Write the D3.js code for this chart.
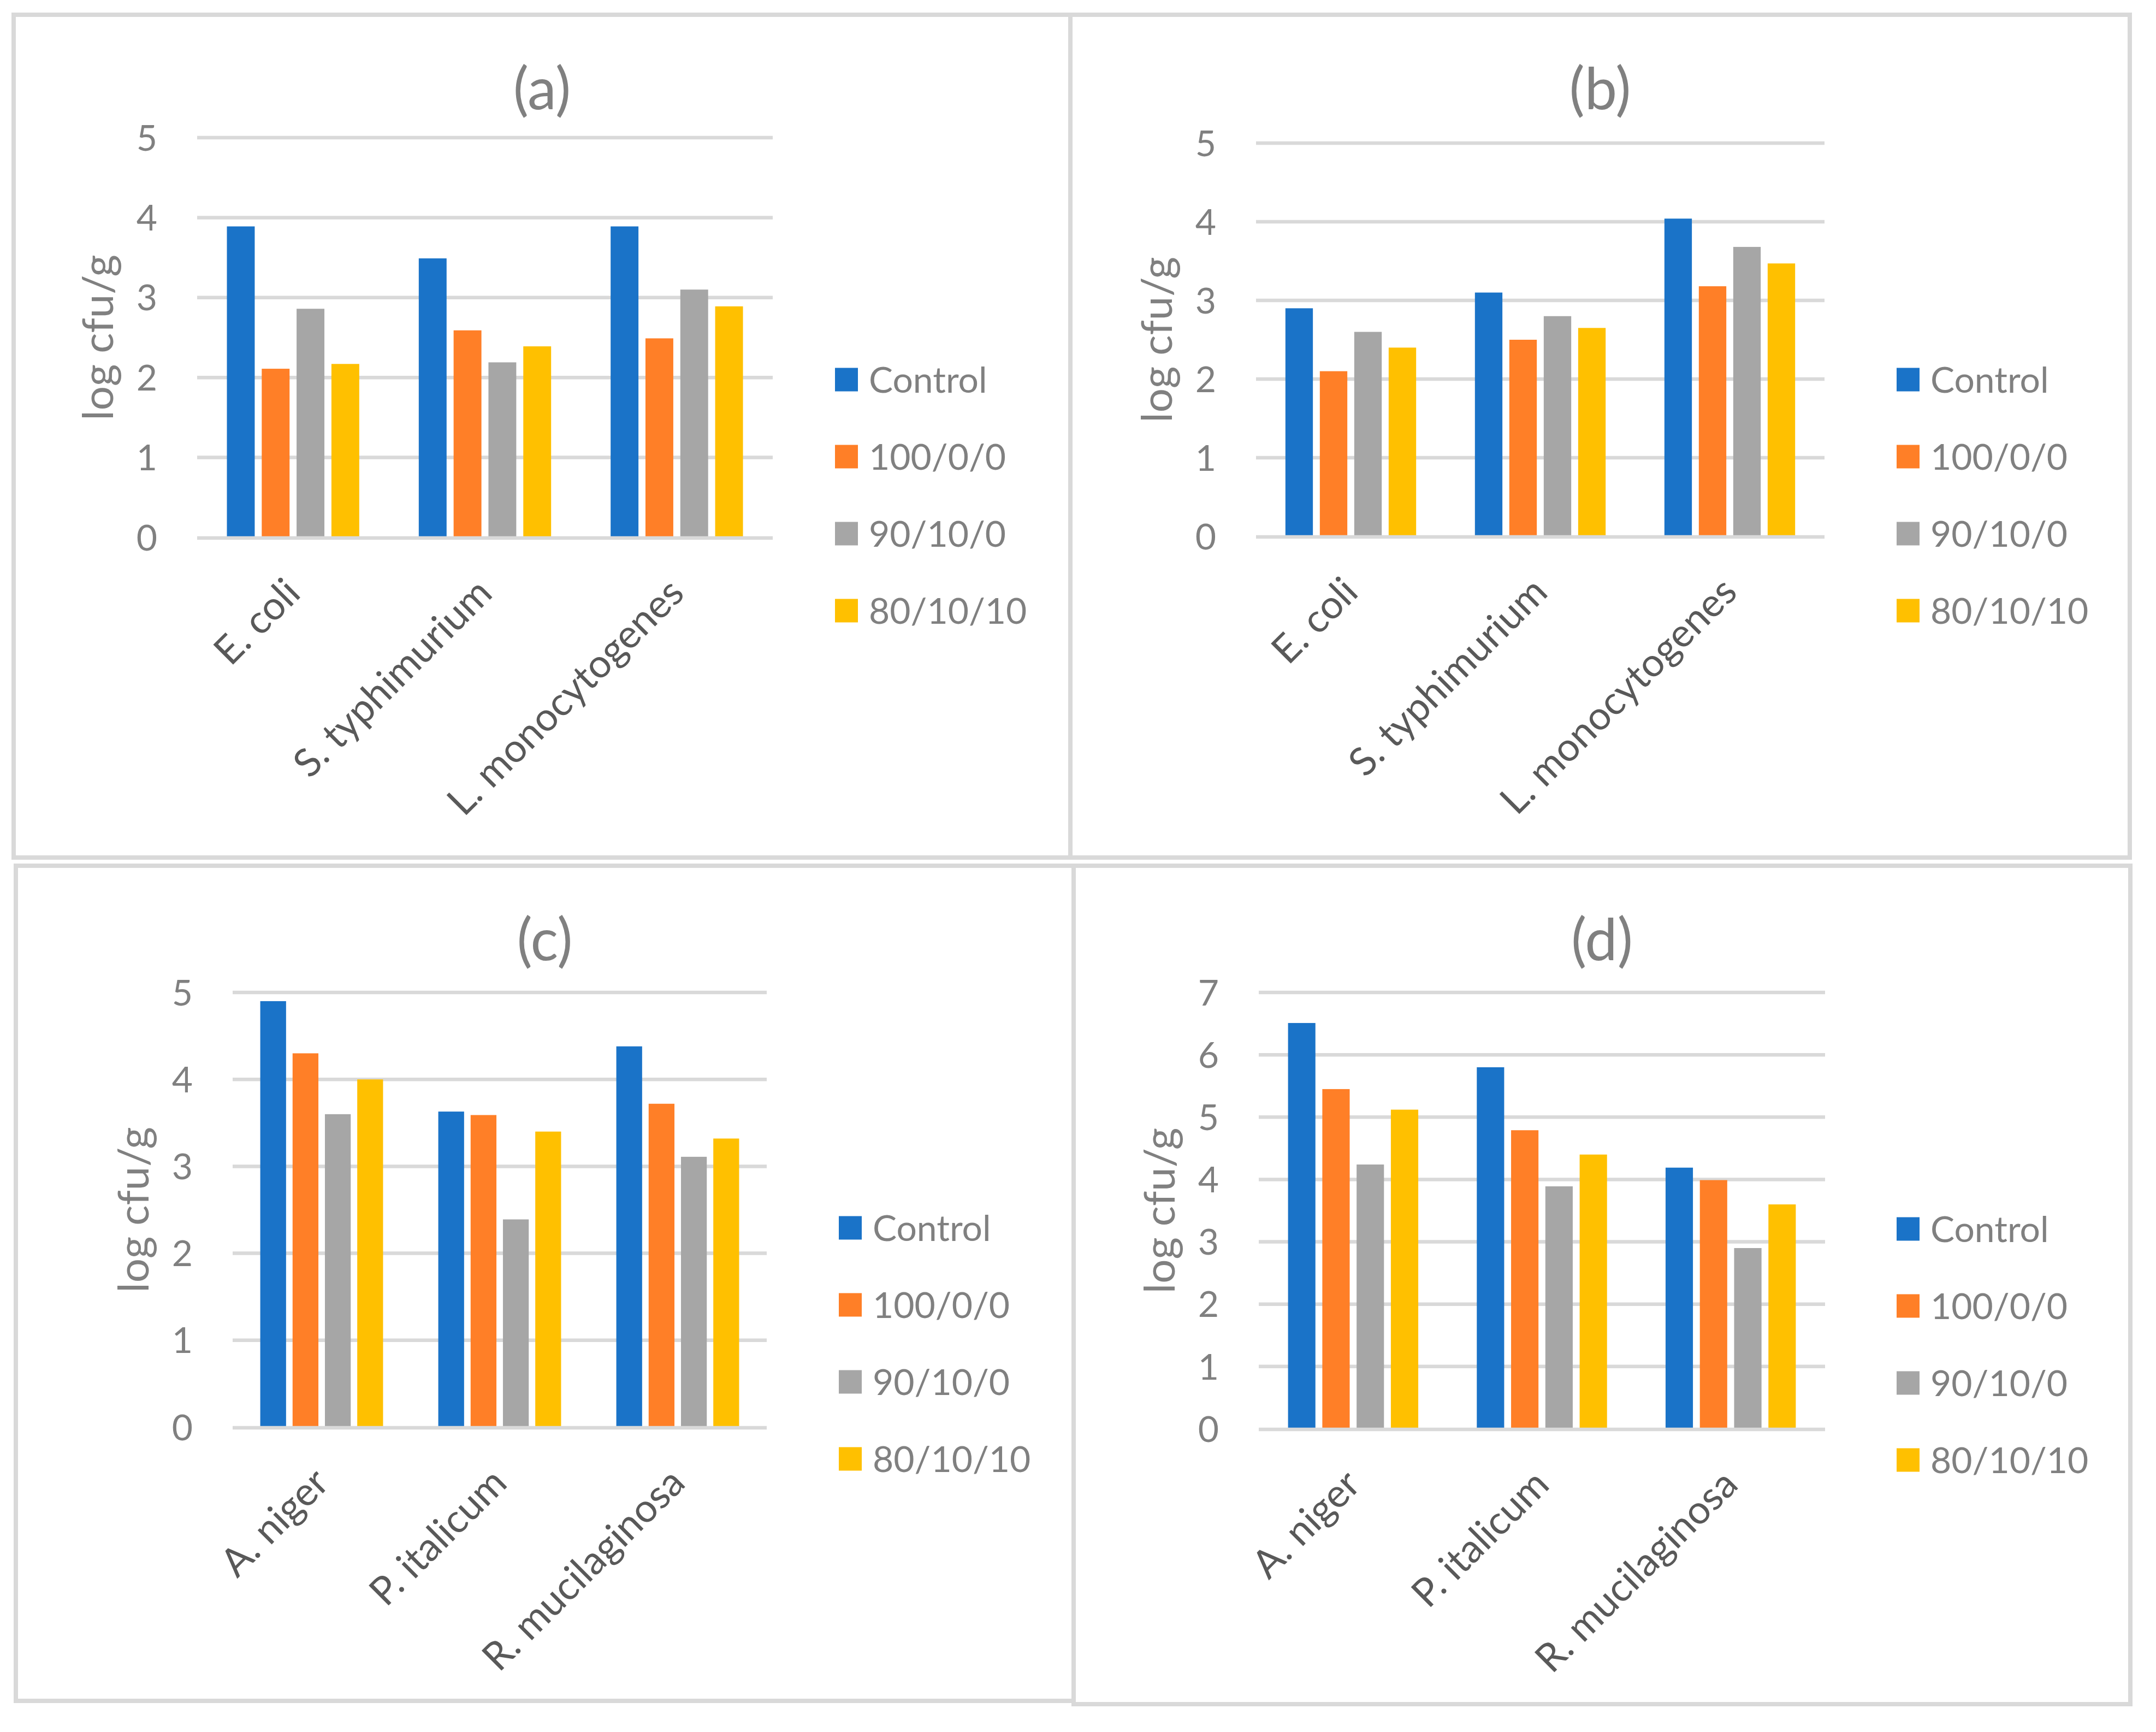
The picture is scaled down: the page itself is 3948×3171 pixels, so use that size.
<!DOCTYPE html>
<html>
<head>
<meta charset="utf-8">
<script src="https://cdn.jsdelivr.net/npm/d3@7"></script>
<style>
  html, body { margin: 0; padding: 0; background: #ffffff; }
  svg { display: block; }
  text { font-family: Lato, "Open Sans", sans-serif; }
</style>
</head>
<body>
<svg id="chart" width="3948" height="3171"></svg>
<script>
// ---------------- DATA ----------------
const seriesNames = ["Control", "100/0/0", "90/10/0", "80/10/10"];
const bacteria = ["E. coli", "S. typhimurium", "L. monocytogenes"];
const fungi = ["A. niger", "P. italicum", "R. mucilaginosa"];

// values per series (rows) across the three categories (columns)
const valuesA = [
  [3.89, 3.49, 3.89],
  [2.11, 2.59, 2.49],
  [2.86, 2.19, 3.10],
  [2.17, 2.39, 2.89]
];
const valuesB = [
  [2.90, 3.10, 4.04],
  [2.10, 2.50, 3.18],
  [2.60, 2.80, 3.68],
  [2.40, 2.65, 3.47]
];
const valuesC = [
  [4.90, 3.63, 4.38],
  [4.30, 3.59, 3.72],
  [3.60, 2.39, 3.11],
  [4.00, 3.40, 3.32]
];
const valuesD = [
  [6.51, 5.80, 4.19],
  [5.45, 4.79, 3.99],
  [4.24, 3.89, 2.90],
  [5.12, 4.40, 3.60]
];
const ticksABC = [0, 1, 2, 3, 4, 5];
const ticksD = [0, 1, 2, 3, 4, 5, 6, 7];
const titles = ["(a)", "(b)", "(c)", "(d)"];
const axisTitle = "log cfu/g";
const colors = ["#1A73C8", "#FF7F27", "#A6A6A6", "#FFC000"];

// ---------------- LAYOUT ----------------
const panels = [
  { title: titles[0], cats: bacteria, vals: valuesA, ticks: ticksABC,
    box: [25, 27, 1960, 1570], plot: [361, 252, 1415, 984], legX: 1529, legY: 695 },
  { title: titles[1], cats: bacteria, vals: valuesB, ticks: ticksABC,
    box: [1960, 27, 3900, 1570], plot: [2300, 262, 3341, 982], legX: 3473, legY: 695 },
  { title: titles[2], cats: fungi, vals: valuesC, ticks: ticksABC,
    box: [29, 1585, 1966, 3114], plot: [426, 1817, 1404, 2613], legX: 1536, legY: 2248 },
  { title: titles[3], cats: fungi, vals: valuesD, ticks: ticksD,
    box: [1966, 1585, 3901, 3120], plot: [2305, 1817, 3342, 2616], legX: 3473, legY: 2250 }
];

const svg = d3.select("#chart");
svg.append("rect").attr("width", 3948).attr("height", 3171).attr("fill", "#ffffff");

const gridColor = "#D9D9D9";
const textGray = "#808080";
const catGray = "#595959";
const tickFont = 66;
const catFont = 72;
const capH = 0.7165 * tickFont;

panels.forEach(p => {
  const g = svg.append("g");
  const [bx0, by0, bx1, by1] = p.box;
  const [px0, py0, px1, py1] = p.plot;

  // panel border
  g.append("rect")
    .attr("x", bx0).attr("y", by0)
    .attr("width", bx1 - bx0).attr("height", by1 - by0)
    .attr("fill", "none").attr("stroke", gridColor).attr("stroke-width", 8);

  // title
  g.append("text")
    .attr("x", (bx0 + bx1) / 2).attr("y", by0 + 173)
    .attr("text-anchor", "middle")
    .attr("font-size", 106).attr("fill", textGray)
    .text(p.title);

  const maxT = d3.max(p.ticks);
  const y = d3.scaleLinear().domain([0, maxT]).range([py1, py0]);
  const x0 = d3.scaleBand().domain(p.cats).range([px0, px1]).paddingInner(0).paddingOuter(0);
  const band = x0.bandwidth();
  const barW = 0.145 * band;
  const step = 0.1816 * band;
  const groupW = step * (seriesNames.length - 1) + barW;
  const x1 = d3.scaleLinear().domain([0, seriesNames.length - 1]).range([0, step * (seriesNames.length - 1)]);

  // gridlines (except zero drawn later)
  g.append("g").selectAll("line").data(p.ticks.filter(t => t !== 0)).join("line")
    .attr("x1", px0).attr("x2", px1)
    .attr("y1", d => y(d)).attr("y2", d => y(d))
    .attr("stroke", gridColor).attr("stroke-width", 6.5);

  // y tick labels
  g.append("g").selectAll("text").data(p.ticks).join("text")
    .attr("x", px0 - 73).attr("y", d => y(d) + capH / 2)
    .attr("text-anchor", "end")
    .attr("font-size", tickFont).attr("fill", textGray)
    .text(d => d);

  // y axis title
  g.append("text")
    .attr("transform", `translate(${px0 - 154},${(py0 + py1) / 2}) rotate(-90)`)
    .attr("text-anchor", "middle")
    .attr("font-size", 78).attr("fill", textGray)
    .text(axisTitle);

  // bars
  const flat = [];
  p.vals.forEach((row, si) => row.forEach((v, ci) => flat.push({ si, ci, v })));
  g.append("g").selectAll("rect").data(flat).join("rect")
    .attr("x", d => x0(p.cats[d.ci]) + band / 2 - groupW / 2 + x1(d.si))
    .attr("width", barW)
    .attr("y", d => y(d.v))
    .attr("height", d => y(0) - y(d.v))
    .attr("fill", d => colors[d.si]);

  // zero line
  g.append("line")
    .attr("x1", px0).attr("x2", px1)
    .attr("y1", y(0) + 1).attr("y2", y(0) + 1)
    .attr("stroke", gridColor).attr("stroke-width", 6.5);

  // category labels
  g.append("g").selectAll("text").data(p.cats).join("text")
    .attr("transform", d => `translate(${x0(d) + band / 2 + 17},${y(0) + 106}) rotate(-45)`)
    .attr("text-anchor", "end")
    .attr("font-size", catFont).attr("fill", catGray)
    .text(d => d);

  // legend
  const lg = g.append("g");
  seriesNames.forEach((name, i) => {
    const cy = p.legY + i * 141;
    lg.append("rect")
      .attr("x", p.legX).attr("y", cy - 21.5)
      .attr("width", 42).attr("height", 43)
      .attr("fill", colors[i]);
    lg.append("text")
      .attr("x", p.legX + 62).attr("y", cy + capH / 2)
      .attr("font-size", tickFont).attr("fill", textGray)
      .text(name);
  });
});
</script>
</body>
</html>
